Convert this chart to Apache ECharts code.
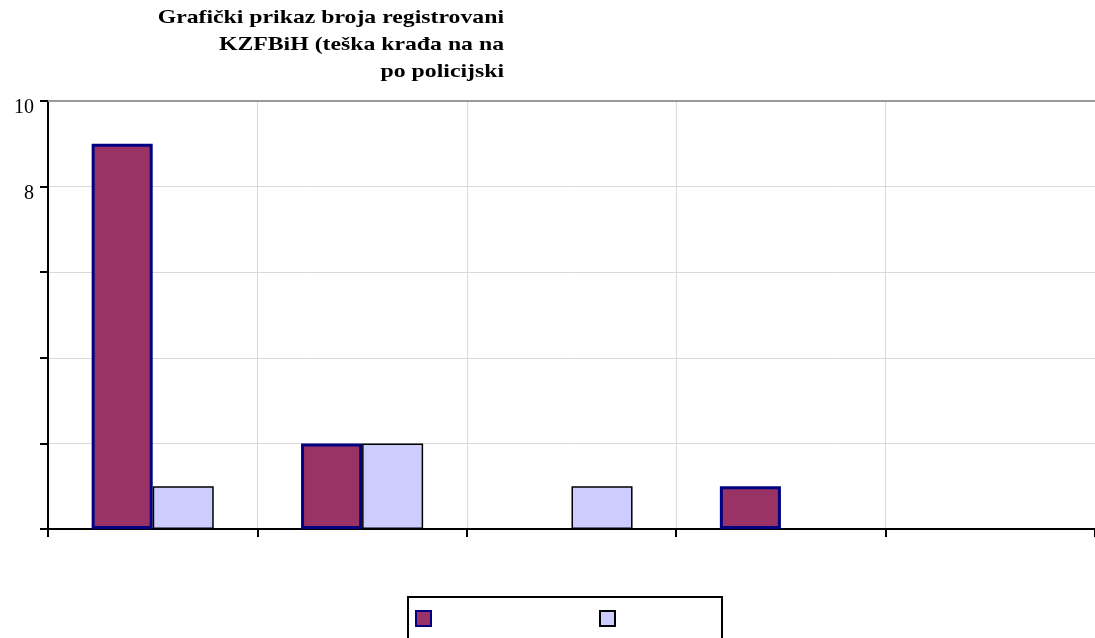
<!DOCTYPE html>
<html><head><meta charset="utf-8">
<script src="https://cdn.jsdelivr.net/npm/echarts@6/dist/echarts.min.js"></script>
<style>html,body{margin:0;padding:0;background:#fff}#c{width:1095px;height:638px}</style>
</head><body><div id="c"></div>
<script>
var titleLines = ['Grafički prikaz broja registrovani', 'KZFBiH (teška krađa na na', 'po policijski'];
var categories = ['PU 1', 'PU 2', 'PU 3', 'PU 4', 'PU 5'];
var seriesNames = ['Serija 1', 'Serija 2'];
var series1 = [9, 2, 0, 1, 0];
var series2 = [1, 2, 1, 0, 0];
var yLabelsShown = [10, 8];

function noZero(arr) { return arr.map(function (v) { return v === 0 ? null : v; }); }

var chart = echarts.init(document.getElementById('c'), null, {renderer: 'canvas'});
var serif = 'Liberation Serif';
chart.setOption({
  animation: false,
  backgroundColor: '#fff',
  graphic: titleLines.map(function (t, i) {
    return {type: 'text', x: 504, y: 9 + i * 27, scaleX: 1.25,
      style: {text: t, font: 'bold 19px "Liberation Serif"', fill: '#000', textAlign: 'right'}};
  }),
  legend: {
    left: 408, top: 597, orient: 'horizontal',
    data: seriesNames,
    icon: 'rect',
    formatter: function () { return ''; },
    itemWidth: 15, itemHeight: 15, itemGap: 167,
    padding: [13, 106, 30, 7],
    borderColor: '#000', borderWidth: 2,
    textStyle: {fontSize: 1}
  },
  grid: {left: 48, right: 0, top: 101, bottom: 109},
  xAxis: [{
    type: 'category', data: categories, position: 'bottom',
    axisLine: {lineStyle: {color: '#000', width: 2}},
    axisTick: {show: true, length: 8, lineStyle: {color: '#000', width: 2}},
    axisLabel: {show: false},
    splitLine: {show: true, lineStyle: {color: '#d9d9d9', width: 1}}
  }, {
    type: 'category', data: categories, position: 'top',
    axisLine: {lineStyle: {color: '#999', width: 2}},
    axisTick: {show: false}, axisLabel: {show: false}, splitLine: {show: false}
  }],
  yAxis: {
    type: 'value', min: 0, max: 10, interval: 2,
    axisLine: {show: true, lineStyle: {color: '#000', width: 2}},
    axisTick: {show: true, length: 8, lineStyle: {color: '#000', width: 2}},
    axisLabel: {margin: 14, fontFamily: serif, fontSize: 20, color: '#000',
      verticalAlign: 'top', lineHeight: 14,
      formatter: function (v) { return yLabelsShown.indexOf(v) >= 0 ? String(v) : ''; }},
    splitLine: {show: true, lineStyle: {color: '#d9d9d9', width: 1}}
  },
  series: [{
    name: seriesNames[0], type: 'bar', data: noZero(series1), xAxisIndex: 0,
    barGap: '0%', barCategoryGap: '41.7%',
    itemStyle: {color: '#993366', borderColor: '#000080', borderWidth: 3}
  }, {
    name: seriesNames[1], type: 'bar', data: noZero(series2), xAxisIndex: 0,
    barGap: '0%', barCategoryGap: '41.7%',
    itemStyle: {color: '#CCCCFF', borderColor: '#000', borderWidth: 1.5}
  }]
});
</script></body></html>
